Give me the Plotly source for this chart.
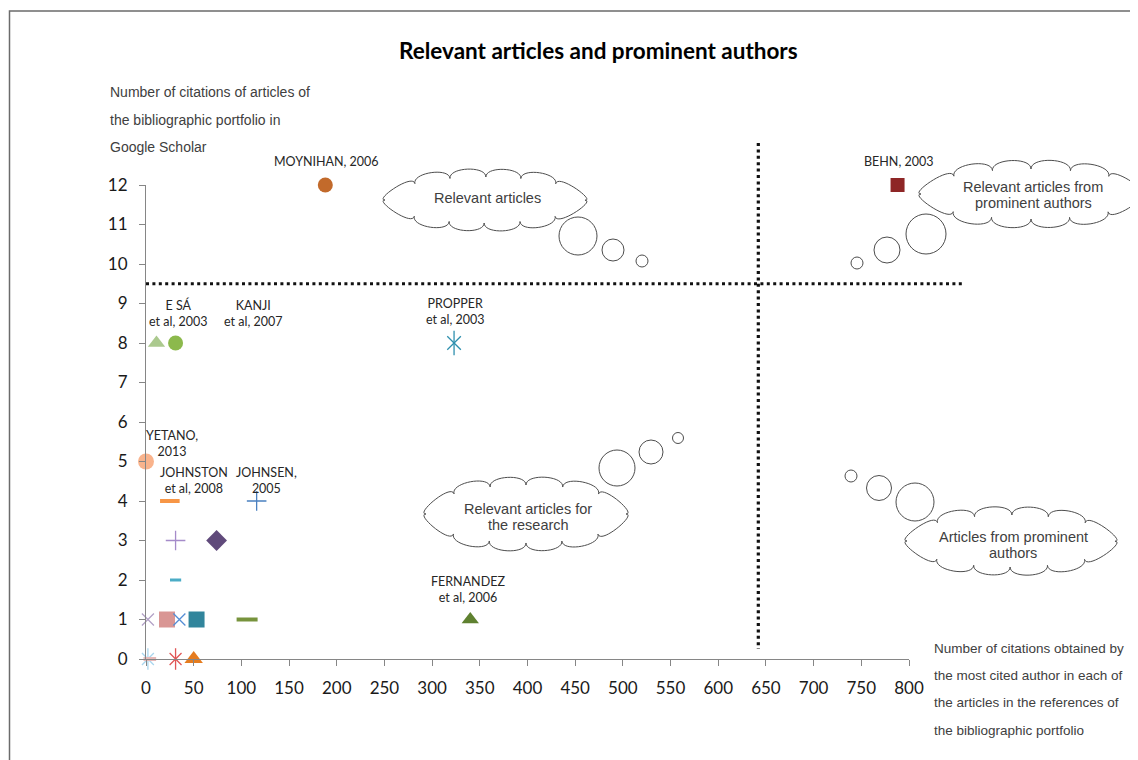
import math
import plotly.graph_objects as go

# ---------------- data ----------------
articles = [
    "MOYNIHAN, 2006", "BEHN, 2003", "E SÁ et al, 2003", "KANJI et al, 2007",
    "PROPPER et al, 2003", "YETANO, 2013", "JOHNSTON et al, 2008", "JOHNSEN, 2005",
    "A9", "A10", "A11", "A12", "A13", "A14", "A15", "A16",
    "FERNANDEZ et al, 2006", "A18", "A19", "A20", "A21",
]
author_citations = [188, 788, 11, 31, 323, 0, 25, 116, 31, 74, 31, 2, 22, 35, 53, 106, 340, 2, 4, 31, 50]
article_citations = [12, 12, 8, 8, 8, 5, 4, 4, 3, 3, 2, 1, 1, 1, 1, 1, 1, 0, 0, 0, 0]

point_labels = {
    0: "MOYNIHAN, 2006",
    1: "BEHN, 2003",
    2: "E SÁ<br>et al, 2003",
    3: "KANJI<br>et al, 2007",
    4: "PROPPER<br>et al, 2003",
    5: "YETANO,<br>2013",
    6: "JOHNSTON<br>et al, 2008",
    7: "JOHNSEN,<br>2005",
    16: "FERNANDEZ<br>et al, 2006",
}

x_ticks = list(range(0, 801, 50))
y_ticks = list(range(0, 13))

relevance_threshold = 9.5      # article citations
prominence_threshold = 642     # author citations

title_text = "Relevant articles and prominent authors"
y_title_lines = ["Number of citations of articles of", "the bibliographic portfolio in", "Google Scholar"]
x_title_lines = ["Number of citations obtained by", "the most cited author in each of",
                 "the articles in the references of", "the bibliographic portfolio"]

# ---------------- styles ----------------
# (symbol, color, size, line width)
styles = [
    ("circle", "#c26a2b", 15, 0),
    ("square", "#8e2626", 14, 0),
    ("triangle-up", "#abc98e", 15, 0),
    ("circle", "#8cb94c", 15, 0),
    ("asterisk6", "#2f90ae", 16, 1.3),
    ("circle", "#f9b38c", 16, 0),
    ("line-ew-open", "#f79646", 14, 4),
    ("cross-thin-open", "#4a80c0", 14, 1.3),
    ("cross-thin-open", "#a58bc9", 14, 1.3),
    ("diamond", "#604a7b", 16, 0),
    ("line-ew-open", "#4bacc6", 8, 3),
    ("x-thin-open", "#b3a2c7", 12, 1.3),
    ("square", "#d99694", 16, 0),
    ("x-thin-open", "#558ed5", 12, 1.3),
    ("square", "#31859c", 16, 0),
    ("line-ew-open", "#77933c", 15, 4),
    ("triangle-up", "#5f8130", 15, 0),
    ("asterisk6", "#a9d6ee", 14, 1.3),
    ("line-ew-open", "#e6b9b8", 9, 4),
    ("asterisk6", "#e05555", 14, 1.3),
    ("triangle-up", "#e57c1f", 16, 0),
]

label_shift = {  # (xshift, yshift) in px
    0: (1, 24), 1: (1, 24), 2: (22, 30), 3: (77, 30), 4: (1, 32),
    5: (26, 18), 6: (24, 21), 7: (10, 21), 16: (-2, 30),
}

# page has an 8px body margin; reference pixel coords -> figure coords
OFF = 8
W, H = 1138, 760
L, R, T, B = 146 - OFF, 909 - OFF, 185 - OFF, 659 - OFF


def px(p):  # reference page pixel x -> paper
    return (p - OFF - L) / (R - L)


def py(p):  # reference page pixel y -> paper
    return (B - (p - OFF)) / (B - T)


fig = go.Figure()

for i in range(len(articles)):
    sym, col, size, lw = styles[i]
    xs, ys = [author_citations[i]], [article_citations[i]]
    if sym == "asterisk6":
        for s in ("x-thin-open", "line-ns-open"):
            fig.add_trace(go.Scatter(
                x=xs, y=ys, mode="markers", cliponaxis=False, showlegend=False,
                name=articles[i],
                marker=dict(symbol=s, color=col, size=size * (0.85 if s == "x-thin-open" else 1.1),
                            line=dict(color=col, width=lw))))
    else:
        fig.add_trace(go.Scatter(
            x=xs, y=ys, mode="markers", cliponaxis=False, showlegend=False,
            name=articles[i],
            marker=dict(symbol=sym, color=col, size=size,
                        line=dict(color=col, width=lw))))

annotations = []
for i, txt in point_labels.items():
    dx, dy = label_shift[i]
    annotations.append(dict(
        x=author_citations[i], y=article_citations[i], xref="x", yref="y",
        text=txt, showarrow=False, xshift=dx, yshift=dy,
        xanchor="center", yanchor="middle", align="center",
        font=dict(family="Lato, Calibri, sans-serif", size=12.5, color="#262626")))

# title
annotations.append(dict(x=px(598), y=py(51), xref="paper", yref="paper", text="<b>" + title_text + "</b>",
                        showarrow=False, xanchor="center", yanchor="middle",
                        font=dict(family="Lato, sans-serif", size=22.5, color="#000000")))

arial = "Liberation Sans, Arial, sans-serif"
for k, line in enumerate(y_title_lines):
    annotations.append(dict(x=px(108), y=py(92 + 27.5 * k), xref="paper", yref="paper", text=line,
                            showarrow=False, xanchor="left", yanchor="middle",
                            font=dict(family=arial, size=14, color="#404040")))
for k, line in enumerate(x_title_lines):
    annotations.append(dict(x=px(932), y=py(648 + 27.4 * k), xref="paper", yref="paper", text=line,
                            showarrow=False, xanchor="left", yanchor="middle",
                            font=dict(family=arial, size=13.5, color="#404040")))

shapes = []


def cloud_path(cx, cy, rx, ry, n, bulge):
    dense = []
    M = 720
    for j in range(M + 1):
        t = 2 * math.pi * j / M + math.pi
        dense.append((cx + rx * math.cos(t), cy + ry * math.sin(t)))
    acc = [0.0]
    for j in range(1, len(dense)):
        acc.append(acc[-1] + math.dist(dense[j], dense[j - 1]))
    total = acc[-1]
    pts = []
    j = 0
    for k in range(n):
        target = total * k / n
        while acc[j] < target:
            j += 1
        pts.append(dense[j])
    pts.append(pts[0])

    def nrm(p):
        vx, vy = (p[0] - cx) / rx ** 2, (p[1] - cy) / ry ** 2
        d = math.hypot(vx, vy)
        return vx / d, vy / d

    path = f"M{px(pts[0][0]):.5f},{py(pts[0][1]):.5f}"
    for k in range(n):
        a, b = pts[k], pts[k + 1]
        h = bulge * math.dist(a, b)
        na, nb = nrm(a), nrm(b)
        c1 = (a[0] + na[0] * h, a[1] + na[1] * h)
        c2 = (b[0] + nb[0] * h, b[1] + nb[1] * h)
        path += (f" C{px(c1[0]):.5f},{py(c1[1]):.5f} {px(c2[0]):.5f},{py(c2[1]):.5f}"
                 f" {px(b[0]):.5f},{py(b[1]):.5f}")
    return path + " Z"


clouds = [
    # (cx, cy, rx, ry, bumps, text lines, text y)
    (485, 200, 100, 23, 12, ["Relevant articles"], [198]),
    (1031, 194, 110, 25, 12, ["Relevant articles from", "prominent authors"], [187, 203]),
    (526, 514, 100, 29, 12, ["Relevant articles for", "the research"], [509, 525]),
    (1011, 541, 104, 26, 12, ["Articles from prominent", "authors"], [537, 553]),
]
bubbles = [
    [(578, 236, 19), (613, 250, 11), (642, 261, 6)],
    [(926, 234, 20), (887, 250, 13), (857, 263, 6)],
    [(617, 468, 18), (651, 452, 12), (678, 438, 5.5)],
    [(915, 502, 19), (879, 488, 12.5), (851, 476, 6)],
]

for (cx, cy, rx, ry, n, lines, ty), bub in zip(clouds, bubbles):
    shapes.append(dict(type="path", xref="paper", yref="paper", path=cloud_path(cx, cy, rx, ry, n, 0.32),
                       line=dict(color="#4d4d4d", width=1), fillcolor="white", layer="above"))
    for (bx, by, r) in bub:
        shapes.append(dict(type="circle", xref="paper", yref="paper",
                           x0=px(bx - r), x1=px(bx + r), y0=py(by + r), y1=py(by - r),
                           line=dict(color="#4d4d4d", width=1), layer="above"))
    for line, yy in zip(lines, ty):
        annotations.append(dict(x=px(cx + 2), y=py(yy), xref="paper", yref="paper", text=line,
                                showarrow=False, xanchor="center", yanchor="middle",
                                font=dict(family=arial, size=14.5, color="#404040")))

# threshold dotted lines (paper space so they may extend past the axes)
x_to_px = lambda v: 146 + (909 - 146) * v / 800
y_to_px = lambda v: 659 - (659 - 185) * v / 12
shapes.append(dict(type="line", xref="paper", yref="paper",
                   x0=px(x_to_px(0)), x1=px(962),
                   y0=py(y_to_px(relevance_threshold)), y1=py(y_to_px(relevance_threshold)),
                   line=dict(color="#111111", width=3.2, dash="3px,3.4px")))
shapes.append(dict(type="line", xref="paper", yref="paper",
                   x0=px(x_to_px(prominence_threshold)), x1=px(x_to_px(prominence_threshold)),
                   y0=py(143), y1=py(649),
                   line=dict(color="#111111", width=3.2, dash="3px,3.4px")))

# outer frame
shapes.append(dict(type="rect", xref="paper", yref="paper",
                   x0=px(9.5), x1=px(1170), y0=py(11), y1=py(800),
                   line=dict(color="#6b6b6b", width=1.5), layer="below"))

axis_font = dict(family="Lato, Calibri, sans-serif", size=17, color="#1a1a1a")
fig.update_layout(
    width=W, height=H,
    margin=dict(l=L, r=W - R, t=T, b=H - B, pad=0),
    paper_bgcolor="white", plot_bgcolor="white",
    showlegend=False,
    xaxis=dict(range=[0, 800], tickvals=x_ticks, showgrid=False, zeroline=False,
               showline=True, linecolor="#868686", linewidth=1,
               ticks="outside", ticklen=6, tickcolor="#868686", tickfont=axis_font,
               ticklabelstandoff=8, fixedrange=True),
    yaxis=dict(range=[0, 12], tickvals=y_ticks, showgrid=False, zeroline=False,
               showline=True, linecolor="#868686", linewidth=1,
               ticks="outside", ticklen=6, tickcolor="#868686", tickfont=axis_font,
               ticklabelstandoff=8, fixedrange=True),
    annotations=annotations,
    shapes=shapes,
)

fig.write_html("out.html")
